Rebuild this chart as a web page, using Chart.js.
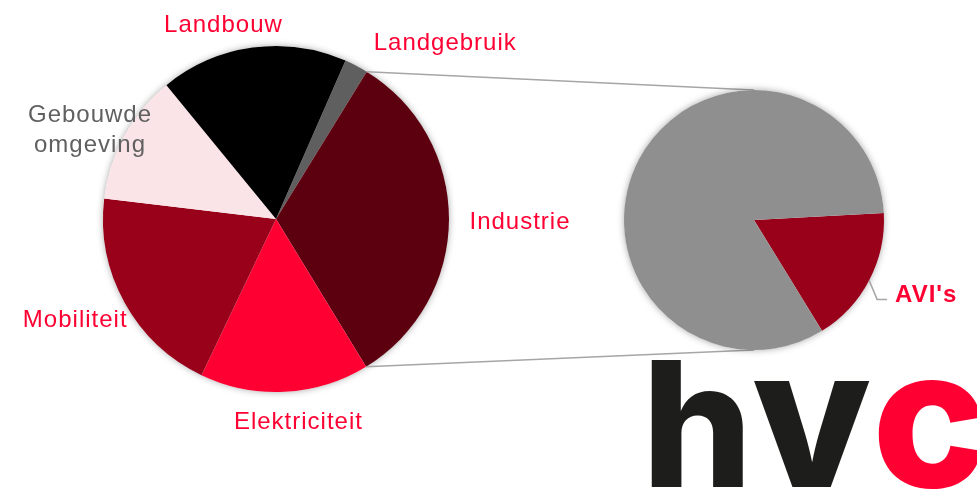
<!DOCTYPE html>
<html>
<head>
<meta charset="utf-8">
<script src="https://cdn.jsdelivr.net/npm/chart.js@4.4.1/dist/chart.umd.min.js"></script>
<style>
html, body { margin: 0; padding: 0; background: #fff; }
#wrap { position: relative; width: 977px; height: 489px; overflow: hidden; }
#wrap canvas { position: absolute; left: 0; top: 0; }
</style>
</head>
<body>
<div id="wrap">
    <canvas id="mainPie" width="977" height="489"></canvas>
    <canvas id="subPie" width="977" height="489"></canvas>
</div>
<script>
// share of total emissions (%), clockwise starting at Landgebruik
let sectorLabels = ["Landgebruik", "Industrie", "Elektriciteit", "Mobiliteit", "Gebouwde omgeving", "Landbouw"];
let sectorValues = [2.2, 32.5, 15.8, 19.8, 12.2, 17.5];
let sectorColors = ["#5f5f5f", "#5c000f", "#ff0033", "#990019", "#fae4e8", "#000000"];
let labelColors = ["#ff0033", "#ff0033", "#ff0033", "#ff0033", "#606060", "#ff0033"];

// Industrie split out in the second pie (% of Industrie)
let subLabels = ["AVI's", "Overig"];
let subValues = [17.1, 82.9];
let subColors = ["#990019", "#8f8f8f"];
let splitIndex = 1; // the slice that is exploded into the second pie

// label nudges (px) from the default spot just outside each slice
let labelNudge = [[75, 11], [41, 10], [12, 7], [-23, 10], [-8, 1], [-25, 14]];

const font = '"Liberation Sans", Arial, sans-serif';

//Draw a soft shadow behind the whole pie
const pieShadow = {
    id: 'pieShadow',
    beforeDatasetsDraw(chart) {
        let arc = chart.getDatasetMeta(0).data[0];
        let ctx = chart.ctx;
        ctx.save();
        ctx.shadowColor = 'rgba(0,0,0,0.35)';
        ctx.shadowBlur = 7;
        ctx.fillStyle = '#fff';
        ctx.beginPath();
        ctx.arc(arc.x, arc.y, arc.outerRadius, 0, Math.PI * 2);
        ctx.fill();
        ctx.restore();
    }
};

//Write slice names outside the main pie
const sectorText = {
    id: 'sectorText',
    afterDatasetsDraw(chart) {
        let ctx = chart.ctx;
        let arcs = chart.getDatasetMeta(0).data;
        ctx.save();
        ctx.font = '24px ' + font;
        ctx.letterSpacing = '1px';
        ctx.textAlign = 'center';
        ctx.textBaseline = 'alphabetic';
        arcs.forEach((arc, i) => {
            let mid = (arc.startAngle + arc.endAngle) / 2;
            let x = arc.x + Math.cos(mid) * (arc.outerRadius + 30) + labelNudge[i][0];
            let y = arc.y + Math.sin(mid) * (arc.outerRadius + 30) + labelNudge[i][1];
            ctx.fillStyle = labelColors[i];
            sectorLabels[i].split(' ').forEach((line, j) => {
                ctx.fillText(line, x, y + j * 30);
            });
        });
        ctx.restore();
    }
};

let mainChart = new Chart(document.getElementById('mainPie'), {
    type: 'pie',
    data: {
        labels: sectorLabels,
        datasets: [{
            data: sectorValues,
            backgroundColor: sectorColors,
            borderWidth: 0
        }]
    },
    options: {
        responsive: false,
        animation: false,
        rotation: 23.7,
        layout: { padding: { left: 103, right: 528, top: 46, bottom: 97 } },
        plugins: { legend: { display: false }, tooltip: { enabled: false } }
    },
    plugins: [pieShadow, sectorText]
});

//Lines from the exploded slice to the second pie, AVI label and the logo
const subExtras = {
    id: 'subExtras',
    beforeDatasetsDraw(chart) {
        let ctx = chart.ctx;
        let src = mainChart.getDatasetMeta(0).data[splitIndex];
        let dst = chart.getDatasetMeta(0).data[0];
        let ends = [
            [src.startAngle, dst.y - dst.outerRadius],
            [src.endAngle, dst.y + dst.outerRadius]
        ];
        ctx.save();
        ctx.strokeStyle = '#a6a6a6';
        ctx.lineWidth = 1.5;
        ends.forEach(([a, y2]) => {
            ctx.beginPath();
            ctx.moveTo(src.x + Math.cos(a) * src.outerRadius, src.y + Math.sin(a) * src.outerRadius);
            ctx.lineTo(dst.x, y2);
            ctx.stroke();
        });
        ctx.restore();
    },
    afterDatasetsDraw(chart) {
        let ctx = chart.ctx;
        let arc = chart.getDatasetMeta(0).data[0];
        let mid = (arc.startAngle + arc.endAngle) / 2;
        let x0 = arc.x + Math.cos(mid) * arc.outerRadius;
        let y0 = arc.y + Math.sin(mid) * arc.outerRadius;
        ctx.save();
        ctx.strokeStyle = '#a6a6a6';
        ctx.lineWidth = 1.5;
        ctx.beginPath();
        ctx.moveTo(x0, y0);
        ctx.lineTo(x0 + 8, y0 + 19);
        ctx.lineTo(x0 + 18, y0 + 19);
        ctx.stroke();
        ctx.font = 'bold 24px ' + font;
        ctx.letterSpacing = '1px';
        ctx.fillStyle = '#ff0033';
        ctx.textAlign = 'left';
        ctx.fillText(subLabels[0], x0 + 26, y0 + 22);
        ctx.restore();
    },
    afterDraw(chart) {
        //hvc logo
        let ctx = chart.ctx;
        ctx.save();
        ctx.textAlign = 'left';
        ctx.fillStyle = '#1d1d1b';
        ctx.font = '800 174px Inter, sans-serif';
        ctx.fillText('h', 642, 487);
        ctx.font = '800 194px Inter, sans-serif';
        ctx.fillText('v', 752, 487);
        ctx.fillStyle = '#ff0033';
        ctx.fillText('c', 872, 487);
        ctx.restore();
    }
};

new Chart(document.getElementById('subPie'), {
    type: 'pie',
    data: {
        labels: subLabels,
        datasets: [{
            data: subValues,
            backgroundColor: subColors,
            borderWidth: 0
        }]
    },
    options: {
        responsive: false,
        animation: false,
        rotation: 86.9,
        layout: { padding: { left: 624, right: 93, top: 90, bottom: 139 } },
        plugins: { legend: { display: false }, tooltip: { enabled: false } }
    },
    plugins: [subExtras, pieShadow]
});
</script>
</body>
</html>
